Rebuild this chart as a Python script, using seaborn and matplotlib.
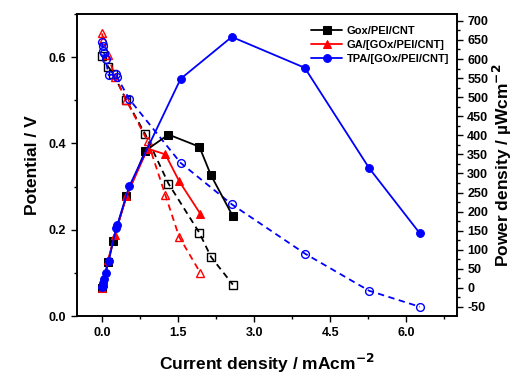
import numpy as np
import pandas as pd
import matplotlib
matplotlib.use("Agg")
import matplotlib.pyplot as plt
from matplotlib.ticker import MultipleLocator
import seaborn as sns

# ---- data ----
gox_i = [0.0, 0.12, 0.22, 0.48, 0.85, 1.31, 1.92, 2.15, 2.58]
gox_v = [0.603, 0.578, 0.562, 0.50, 0.422, 0.307, 0.193, 0.137, 0.073]
gox_p = [0, 69, 124, 240, 359, 402, 370, 295, 188]

ga_i = [0.0, 0.02, 0.12, 0.25, 0.48, 0.90, 1.25, 1.52, 1.94]
ga_v = [0.655, 0.64, 0.605, 0.555, 0.50, 0.405, 0.28, 0.184, 0.10]
ga_p = [0, 13, 73, 139, 240, 365, 350, 280, 194]

tpa_i = [0.0, 0.01, 0.02, 0.04, 0.07, 0.13, 0.28, 0.30, 0.535, 1.55, 2.56, 4.0, 5.27, 6.27]
tpa_v = [0.635, 0.625, 0.615, 0.61, 0.595, 0.558, 0.562, 0.553, 0.503, 0.355, 0.259, 0.145, 0.0587, 0.0216]
tpa_p = [3, 6, 12, 24, 40, 70, 158, 165, 266, 548, 658, 577, 314, 143]

labels = ["Gox/PEI/CNT", "GA/[GOx/PEI/CNT]", "TPA/[GOx/PEI/CNT]"]
colors = ["black", "red", "blue"]
markers = ["s", "^", "o"]

sns.set_style("ticks")
plt.rcParams['font.family'] = ['Liberation Sans', 'DejaVu Sans']
plt.rcParams['font.weight'] = 'bold'
plt.rcParams['axes.unicode_minus'] = False
plt.rcParams['text.color'] = 'black'
plt.rcParams['axes.labelcolor'] = 'black'
plt.rcParams['xtick.color'] = 'black'
plt.rcParams['ytick.color'] = 'black'
plt.rcParams['mathtext.default'] = 'bf'

fig = plt.figure(figsize=(5.15, 3.79), dpi=100)
ax = fig.add_axes([0.149, 0.166, 0.738, 0.797])
ax2 = ax.twinx()

series = [(gox_i, gox_v, gox_p), (ga_i, ga_v, ga_p), (tpa_i, tpa_v, tpa_p)]
sizes = [5.2, 5.6, 5.6]
handles = []
for (i, v, p), lab, c, m, ms in zip(series, labels, colors, markers, sizes):
    dfv = pd.DataFrame({"i": i, "v": v})
    dfp = pd.DataFrame({"i": i, "p": p})
    sns.lineplot(data=dfv, x="i", y="v", ax=ax, color=c, marker=m,
                 markersize=ms, markerfacecolor="none", markeredgecolor=c,
                 markeredgewidth=1.0, linestyle=(0, (3.5, 2.5)), linewidth=1.3,
                 sort=False, estimator=None, legend=False)
    sns.lineplot(data=dfp, x="i", y="p", ax=ax2, color=c, marker=m,
                 markersize=ms, markerfacecolor=c, markeredgecolor=c,
                 linewidth=1.3, sort=False, estimator=None, legend=False)
    handles.append(ax2.lines[-1])

ax.set_xlim(-0.5, 7.0)
ax.set_ylim(0.0, 0.70)
ax2.set_ylim(-74, 718)

ax.xaxis.set_major_locator(MultipleLocator(1.5))
ax.xaxis.set_minor_locator(MultipleLocator(0.75))
ax.yaxis.set_major_locator(MultipleLocator(0.2))
ax.yaxis.set_minor_locator(MultipleLocator(0.1))
ax2.yaxis.set_major_locator(MultipleLocator(50))
ax2.yaxis.set_minor_locator(MultipleLocator(25))

ax.set_xticks([0.0, 1.5, 3.0, 4.5, 6.0])
ax.set_xticklabels(["0.0", "1.5", "3.0", "4.5", "6.0"])
ax.set_yticks([0.0, 0.2, 0.4, 0.6])
ax.set_yticklabels(["0.0", "0.2", "0.4", "0.6"])

for a in (ax, ax2):
    for s in a.spines.values():
        s.set_visible(True)
        s.set_linewidth(1.2)
        s.set_color("black")
    a.tick_params(which="major", direction="out", length=4, width=1.0,
                  labelsize=9, colors="black")
    a.tick_params(which="minor", direction="out", length=2.5, width=1.0)

for lab in ax.get_xticklabels() + ax.get_yticklabels() + ax2.get_yticklabels():
    lab.set_fontweight("bold")
    lab.set_color("black")

ax.set_xlabel("Current density / mAcm$^{-2}$", fontsize=12.5, fontweight="bold",
              labelpad=10, color="black")
ax.set_ylabel("Potential / V", fontsize=12.5, fontweight="bold", labelpad=6, color="black")
ax2.set_ylabel("Power density / \u00b5Wcm$^{-2}$", fontsize=12.5, fontweight="bold",
               labelpad=2, color="black")

leg = ax2.legend(handles, labels, loc="upper right", bbox_to_anchor=(1.0, 0.985),
                 frameon=False, fontsize=8, handlelength=2.8, handletextpad=0.4,
                 labelspacing=0.35, borderaxespad=0.3)
for t in leg.get_texts():
    t.set_fontweight("bold")
    t.set_color("black")

fig.savefig("out.png", dpi=100)
